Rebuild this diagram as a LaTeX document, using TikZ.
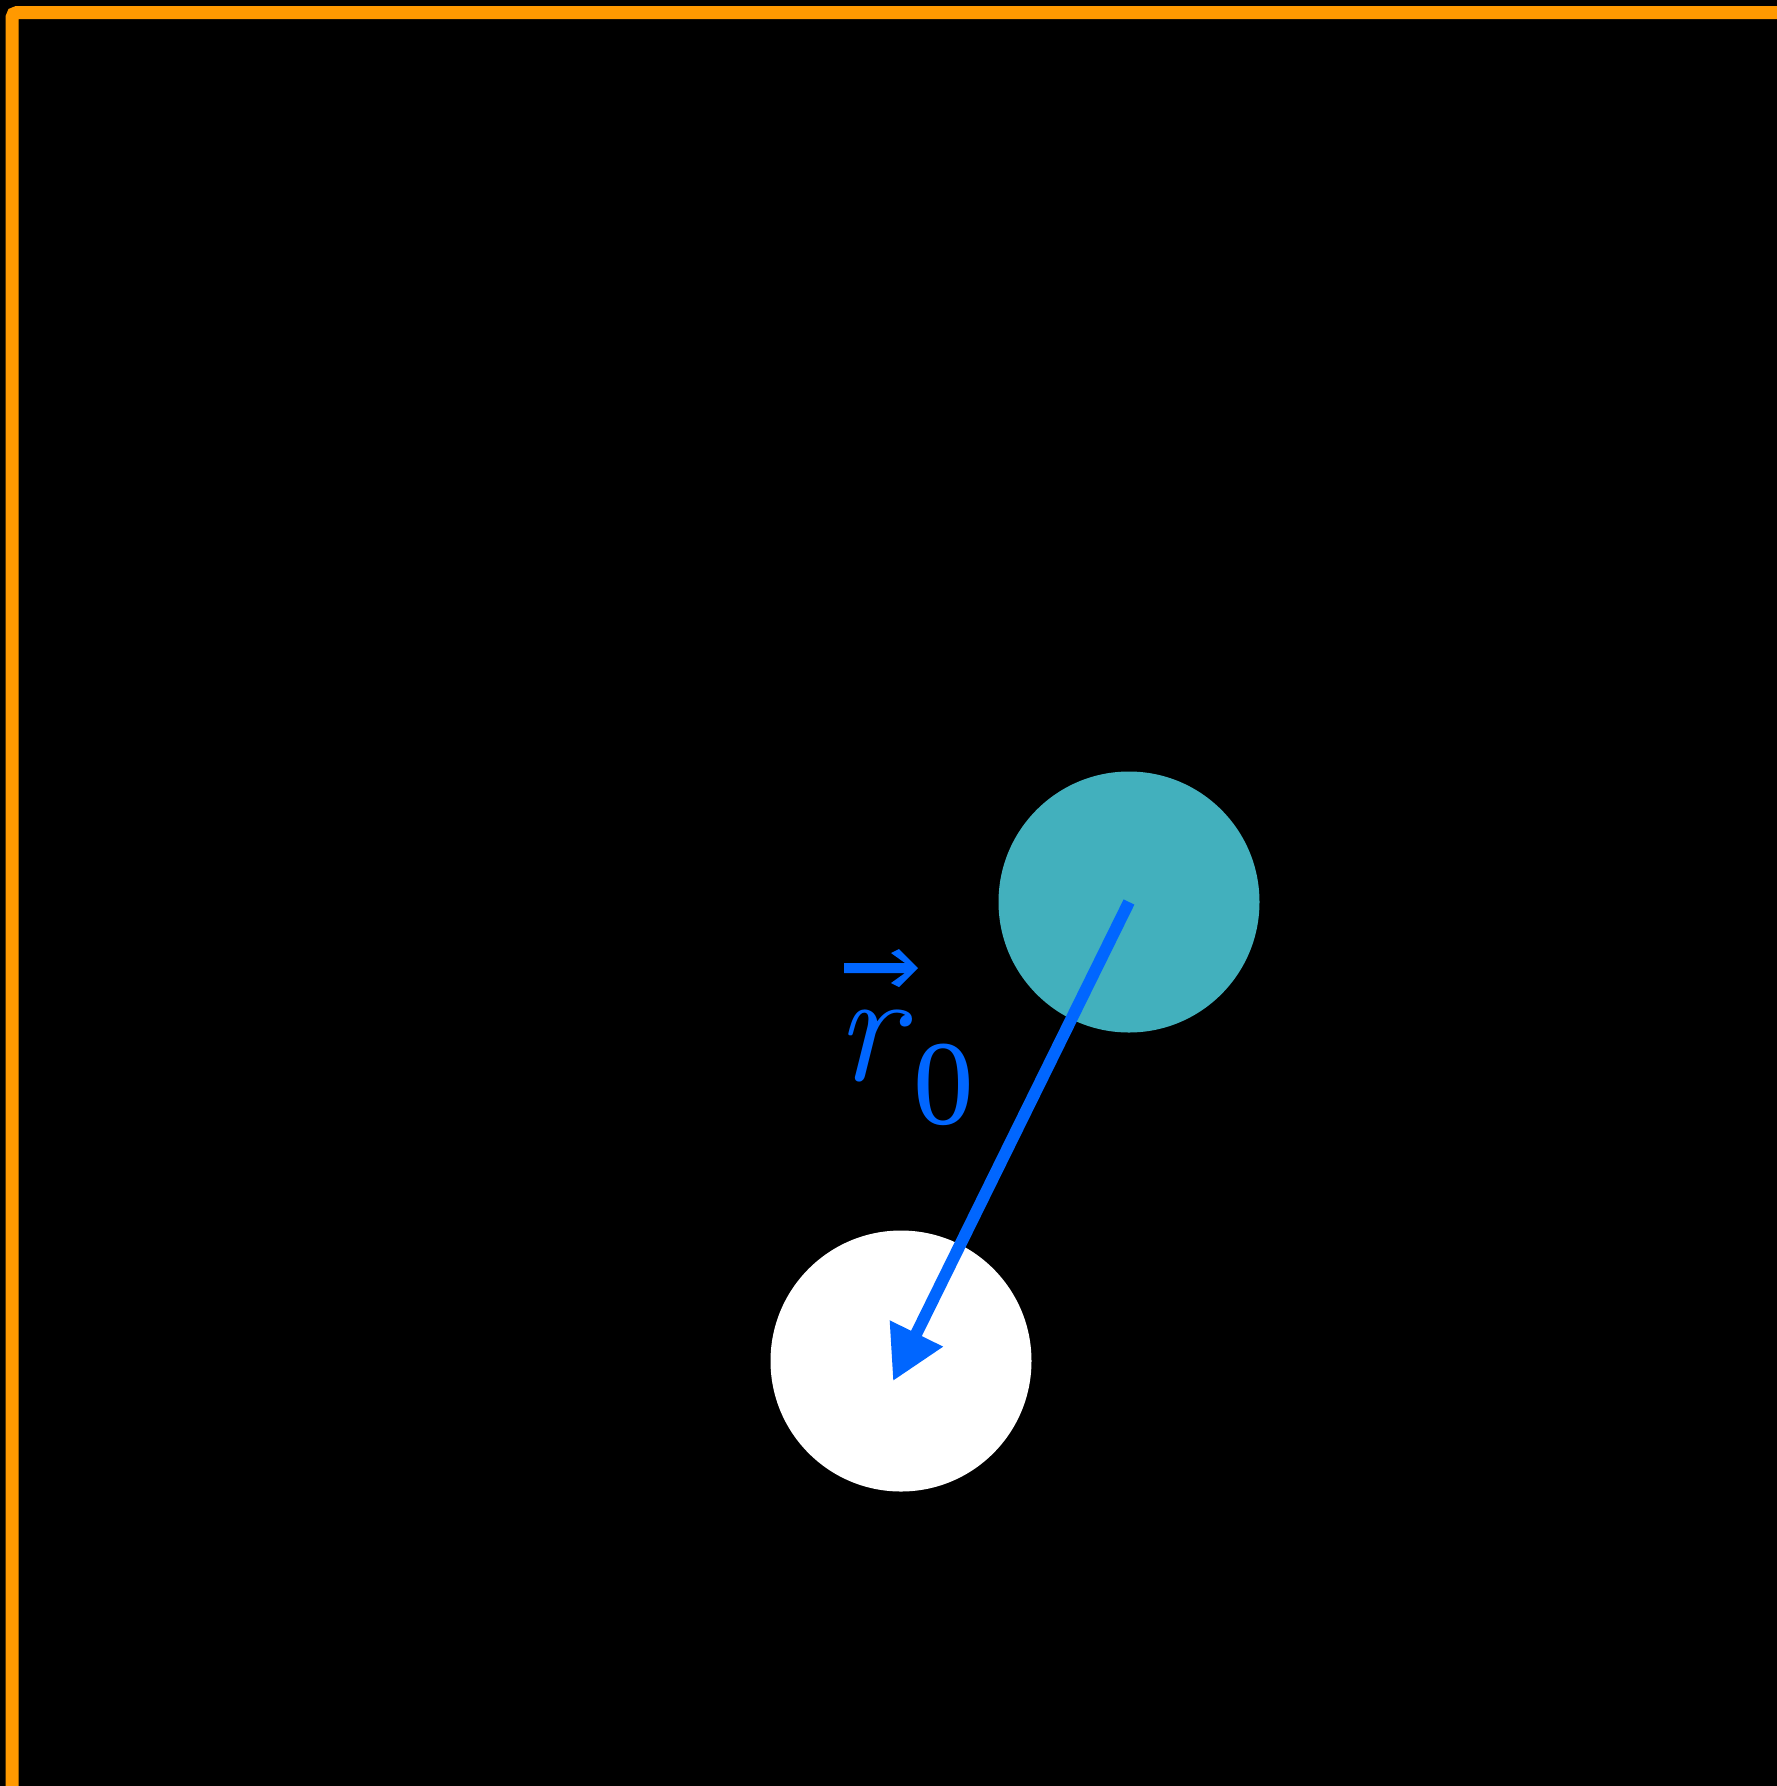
\documentclass[tikz,border=0pt]{standalone}
\usepackage{fontspec}
\setmainfont{Liberation Serif}
\newfontfamily\lmrfont{Latin Modern Roman}
\usetikzlibrary{arrows.meta}
\definecolor{borderorange}{RGB}{255,153,0}
\definecolor{tealfill}{RGB}{66,176,189}
\definecolor{vecblue}{RGB}{0,102,255}
\begin{document}
\begin{tikzpicture}[x=1pt,y=-1pt,
  ball/.style={circle,inner sep=0pt,minimum size=261pt,draw=none},
  lbl/.style={inner sep=0pt,anchor=base west,text=vecblue}]
\fill[black] (0,0) rectangle (1777,1786);
\useasboundingbox (0,0) rectangle (1777,1786);
\draw[borderorange,line width=13pt,rounded corners=5pt] (12,12.5) rectangle (1830,1830);
\node[ball,fill=tealfill] (A) at (1129,902) {};
\node[ball,fill=white] (B) at (901,1361) {};
\coordinate (tip) at (893,1381);
\draw[vecblue,line width=12pt,-{Triangle[length=53pt,width=56pt]}] (A.center) -- (tip);
\node[lbl,font=\fontsize{160}{160}\selectfont\lmrfont\itshape] (r) at (835,1080) {r};
\node[lbl,font=\fontsize{121}{121}\selectfont] (zero) at (913,1124) {0};
\fill[vecblue] (844,963) -- (905,963) -- (891,953) -- (899,949) -- (918,968) -- (899,987) -- (891,983) -- (905,973) -- (844,973) -- cycle;
\end{tikzpicture}
\end{document}
